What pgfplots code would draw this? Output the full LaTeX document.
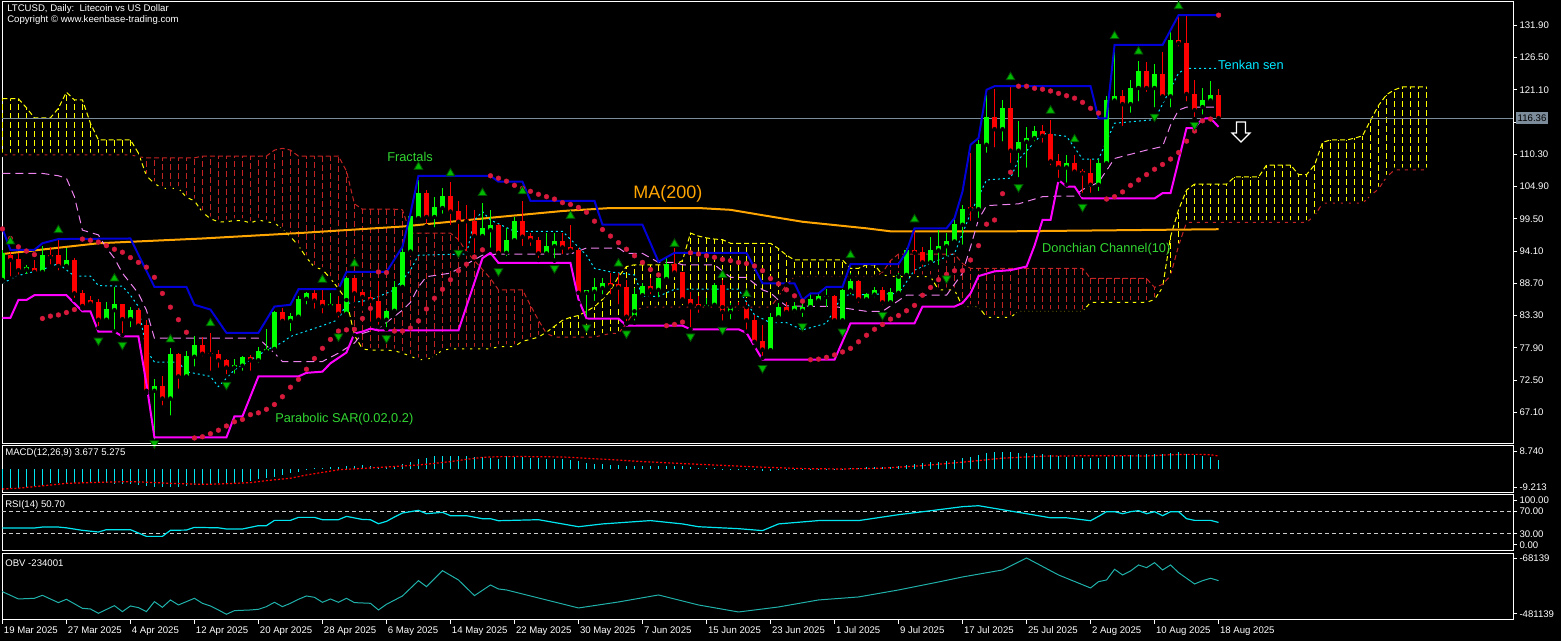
\documentclass[border=0pt]{standalone}
\usepackage{fontspec}
\setmainfont{Liberation Sans}
\usepackage{pgfplots}
\usepackage{pgfplotstable}
\pgfplotsset{compat=1.18}
\definecolor{bullc}{RGB}{0,255,0}
\definecolor{bearc}{RGB}{255,0,0}
\definecolor{dchu}{RGB}{0,0,215}
\definecolor{dchl}{RGB}{255,0,255}
\definecolor{maor}{RGB}{255,165,0}
\definecolor{sarc}{RGB}{215,25,60}
\definecolor{tenk}{RGB}{0,230,255}
\definecolor{kij}{RGB}{238,130,238}
\definecolor{cloudy}{RGB}{255,255,0}
\definecolor{cloudr}{RGB}{195,35,35}
\definecolor{fracg}{RGB}{0,185,0}
\definecolor{fracd}{RGB}{0,80,0}
\definecolor{txtg}{RGB}{50,215,50}
\definecolor{pricel}{RGB}{125,140,155}
\definecolor{macdc}{RGB}{0,230,240}
\definecolor{rsic}{RGB}{0,230,240}
\definecolor{obvc}{RGB}{32,178,170}
\newcommand{\tf}{\fontsize{9.6}{11}\selectfont}
\newcommand{\af}{\fontsize{12.8}{14}\selectfont}

\pgfplotstableread{
i l h bl bh
0 89.0 94.3 89.26 93.72
3 89.9 91.8 91.0 91.4
5 90.3 94.9 90.6 93.4
8 91.5 94.6 91.6 92.6
13 82.3 85.6 82.6 84.4
14 80.6 88.1 84.2 85.2
16 81.0 84.8 82.7 84.2
19 62.2 72.6 70.7 71.5
21 66.2 77.8 69.4 76.9
23 72.5 77.3 73.1 76.5
24 74.4 79.8 76.4 78.4
29 73.2 76.0 74.6 75.0
30 73.7 76.6 74.9 76.4
32 75.0 78.1 75.8 77.4
33 77.0 81.1 77.3 77.7
34 77.0 84.1 77.7 83.9
36 80.3 83.7 82.4 83.3
37 82.8 86.5 83.1 86.1
38 84.8 87.3 86.1 87.0
41 84.3 87.0 84.9 85.3
43 83.1 89.8 83.6 89.5
48 81.0 84.3 82.6 84.1
49 83.7 89.0 84.1 88.1
50 87.9 95.4 88.1 94.0
51 93.7 100.1 94.0 99.9
52 99.3 106.0 99.6 103.8
54 97.7 103.2 99.8 101.4
55 100.0 104.6 101.3 103.3
60 96.0 102.1 96.6 97.9
61 94.3 101.0 97.6 98.5
63 92.9 97.9 93.8 96.0
64 95.7 99.8 95.9 99.1
68 93.4 97.1 93.7 95.0
69 92.5 97.1 94.9 95.7
73 82.3 87.6 87.1 87.5
74 85.4 89.5 87.3 88.0
75 86.5 89.5 87.9 88.7
79 82.1 87.9 83.1 86.9
80 86.0 88.7 86.7 88.3
82 86.0 90.4 87.6 89.5
83 88.8 92.9 89.4 91.9
88 84.2 86.2 84.8 85.1
89 84.8 88.7 85.1 88.4
91 82.3 85.4 83.9 84.7
96 77.4 83.7 77.5 83.1
97 82.3 85.4 83.0 84.8
99 83.4 85.6 84.1 84.9
100 82.7 85.6 84.1 84.7
101 84.2 87.0 84.7 86.0
102 85.5 87.0 85.8 86.5
103 84.4 87.7 86.4 86.6
105 82.0 87.7 82.5 87.6
106 86.5 90.4 87.5 89.0
108 85.3 87.1 86.0 86.9
109 86.0 88.0 86.8 87.5
111 85.2 87.9 85.5 87.3
112 86.8 90.4 87.1 90.1
113 89.8 94.6 90.1 94.3
116 91.6 96.5 92.2 94.3
117 91.4 97.6 94.2 95.0
118 92.9 97.1 94.9 95.8
119 95.1 99.6 95.7 98.6
120 94.8 101.8 98.5 101.1
122 99.3 112.7 101.1 112.0
123 110.2 120.2 111.9 116.5
125 112.1 119.4 114.5 118.0
127 106.1 115.8 110.9 112.4
128 107.7 114.9 112.4 113.0
129 112.1 115.0 113.0 114.2
133 105.2 110.2 108.1 108.9
137 103.8 109.5 105.2 108.8
138 108.4 120.1 108.8 119.4
139 119.0 127.8 119.3 120.1
141 116.9 122.7 118.7 121.4
142 118.8 126.0 121.4 124.3
144 117.8 125.5 121.4 123.8
146 117.8 130.8 120.0 129.4
150 116.6 121.4 118.2 119.4
151 118.8 122.6 119.3 120.2
}\bull

\pgfplotstableread{
i l h bl bh
1 89.5 94.0 92.6 93.4
2 89.8 93.7 90.9 92.8
4 90.1 92.6 90.6 91.3
6 91.5 94.8 93.1 93.4
7 90.5 95.9 91.6 93.4
9 85.9 93.0 87.0 92.6
10 84.5 87.6 84.9 87.0
11 84.7 86.5 85.3 85.9
12 81.2 86.1 82.6 85.5
15 80.0 85.2 82.7 85.2
17 81.2 84.5 81.6 84.2
18 70.3 82.6 70.7 81.7
20 67.9 73.2 69.4 71.5
22 70.7 77.1 73.1 76.9
25 76.1 79.7 76.9 78.4
26 73.7 80.3 76.8 77.1
27 74.2 77.6 75.8 76.9
28 73.1 76.0 74.6 75.9
31 73.7 76.7 75.8 76.3
35 81.7 84.5 82.4 83.9
39 84.1 87.5 85.8 87.0
40 83.3 87.6 84.9 85.9
42 82.6 86.5 83.6 85.3
44 85.2 89.8 87.0 89.5
45 84.5 87.6 86.4 87.2
46 81.9 87.3 85.8 86.4
47 81.4 89.0 82.6 85.8
53 98.3 104.3 99.8 103.8
56 98.1 105.6 100.7 103.3
57 95.3 102.5 99.0 100.8
58 93.7 101.8 99.1 99.4
59 93.4 101.0 96.6 99.1
62 93.4 98.7 93.8 98.5
65 94.6 102.4 96.5 99.1
66 94.6 97.1 95.9 96.6
67 92.6 96.5 93.7 96.0
70 93.2 97.2 94.7 95.7
71 93.4 98.5 94.2 94.7
72 85.4 94.6 87.1 94.3
76 86.5 90.4 88.2 88.7
77 84.8 90.5 88.0 88.6
78 81.9 89.3 83.1 88.0
81 86.5 89.5 87.6 88.3
84 90.1 94.6 90.5 92.0
85 85.6 90.6 86.0 90.6
86 81.0 87.3 85.1 86.0
87 83.4 86.5 84.7 85.2
90 82.1 89.3 83.9 88.4
92 83.7 85.6 84.5 84.8
93 80.6 85.5 82.5 84.7
94 78.1 83.4 78.9 82.5
95 76.2 81.7 77.6 79.1
98 83.4 85.6 83.9 84.8
104 82.1 86.8 82.5 86.6
107 85.1 89.2 86.0 89.0
110 84.7 88.1 85.5 87.6
114 89.9 97.6 93.8 94.3
115 91.1 94.8 92.2 94.0
121 98.8 110.5 101.1 101.4
124 111.1 121.2 114.5 116.5
126 108.5 121.5 110.9 118.0
130 111.9 115.2 113.4 114.2
131 108.1 116.1 109.1 113.7
132 106.0 110.4 108.1 109.2
134 106.8 110.2 107.4 108.9
135 103.5 107.9 107.1 107.5
136 103.5 109.5 105.2 107.2
140 114.7 121.0 118.7 120.1
143 120.4 125.8 121.4 124.3
145 119.4 127.5 120.0 123.8
147 128.0 133.4 128.9 129.4
148 118.8 133.4 120.4 129.0
149 116.2 122.7 117.7 120.4
152 115.9 121.2 116.36 120.2
}\bear

\pgfplotstableread{
i a b
0 119.6 110.2
1 119.6 110.2
2 119.6 110.2
3 118.1 110.2
4 116.4 110.2
5 116.4 110.2
6 116.4 110.2
7 118.0 110.2
8 120.7 110.2
9 119.4 110.2
10 119.4 110.2
11 115.5 110.2
12 112.7 110.2
13 112.7 110.2
14 112.7 110.2
15 112.7 110.2
16 112.7 110.2
17 110.5 109.9
18 106.7 109.7
19 105.4 109.7
20 104.6 109.7
21 104.6 109.7
22 104.6 109.7
23 103.1 109.7
24 102.5 109.7
25 100.6 110.0
26 99.5 110.0
27 99.0 110.0
28 99.0 110.0
29 99.2 110.0
30 99.2 110.0
31 98.8 110.0
32 99.3 110.0
33 99.0 110.0
34 98.8 111.0
35 97.8 111.3
36 96.5 111.0
37 95.0 110.0
38 93.0 110.0
39 91.4 110.0
40 91.0 110.0
41 89.5 110.0
42 87.8 110.0
43 85.9 107.5
44 80.0 102.0
45 77.7 101.1
46 77.5 101.1
47 77.5 101.1
48 77.5 101.1
49 77.4 101.1
50 77.0 101.0
51 76.5 97.1
52 75.9 97.1
53 75.9 97.1
54 76.5 97.1
55 77.5 97.1
56 77.7 97.1
57 77.7 96.0
58 77.7 94.0
59 77.7 92.5
60 77.7 91.0
61 77.7 89.5
62 78.1 87.6
63 78.1 87.6
64 78.1 87.6
65 79.0 87.6
66 79.3 85.0
67 79.7 82.5
68 80.5 80.3
69 81.5 79.7
70 82.5 79.7
71 83.0 79.7
72 83.3 79.7
73 84.0 79.7
74 84.8 79.7
75 86.0 80.0
76 87.5 80.3
77 89.8 80.3
78 91.5 82.0
79 91.8 84.0
80 91.8 84.7
81 91.8 84.7
82 91.8 84.7
83 91.8 84.7
84 91.8 84.7
85 92.5 84.7
86 97.1 84.7
87 96.6 84.7
88 96.3 84.7
89 96.1 84.7
90 96.0 84.7
91 95.4 84.7
92 95.4 84.7
93 95.4 84.7
94 95.4 84.7
95 95.4 84.7
96 95.4 84.7
97 94.5 86.5
98 93.4 88.5
99 92.6 89.8
100 92.6 89.8
101 92.6 89.8
102 92.6 89.8
103 92.6 89.8
104 92.6 89.8
105 92.6 89.8
106 91.2 89.8
107 91.2 89.8
108 91.8 89.8
109 91.8 89.8
110 90.1 90.5
111 89.9 92.5
112 89.8 93.6
113 89.8 93.6
114 89.8 93.6
115 89.8 93.6
116 89.8 93.6
117 87.6 93.6
118 87.6 93.6
119 87.6 93.6
120 84.8 92.0
121 84.8 91.2
122 84.8 91.2
123 83.0 91.2
124 83.0 91.2
125 83.0 91.2
126 83.0 91.2
127 84.0 91.2
128 84.0 91.2
129 84.0 91.2
130 84.0 91.2
131 84.0 91.2
132 84.0 91.2
133 84.0 91.2
134 84.0 91.2
135 84.0 91.2
136 85.5 89.5
137 85.5 89.5
138 85.5 89.5
139 85.5 89.5
140 85.5 89.5
141 85.5 89.5
142 85.5 89.5
143 85.5 89.5
144 86.0 88.0
145 88.0 88.5
146 96.5 90.0
147 101.0 95.0
148 104.3 98.9
149 105.3 98.9
150 105.3 98.9
151 105.3 98.9
152 105.3 98.9
153 105.3 98.9
154 106.5 98.9
155 106.5 98.9
156 106.5 98.9
157 106.5 98.9
158 108.5 98.9
159 108.5 98.9
160 108.5 98.9
161 108.5 98.9
162 106.9 98.9
163 106.9 98.9
164 108.5 100.0
165 112.3 102.1
166 112.7 102.1
167 112.7 102.1
168 112.7 102.1
169 113.0 102.1
170 113.4 102.1
171 116.0 103.4
172 118.5 104.5
173 120.3 106.5
174 121.1 107.7
175 121.6 107.7
176 121.6 107.7
177 121.6 107.7
178 121.6 107.7
}\cloud

\pgfplotstableread{
i v
0 97.9
1 94.3
4 94.3
5 95.4
7 96.1
16 96.2
19 88.1
23 88.1
24 85.1
26 84.3
28 80.4
32 80.4
34 84.8
36 85.1
37 87.7
42 87.7
43 90.6
48 90.6
50 94.8
51 100.4
52 106.7
61 106.7
62 105.7
65 105.7
66 102.5
74 102.5
75 98.5
80 98.5
82 92.3
84 93.8
93 93.8
95 88.7
99 88.7
100 85.9
101 87.0
102 87.0
103 88.1
105 88.1
106 91.9
112 91.9
113 94.0
114 97.9
118 97.9
119 99.6
120 104.1
121 111.9
122 113.0
123 121.1
124 121.7
136 121.7
137 116.3
138 116.3
139 128.6
145 128.6
147 133.6
152 133.6
}\dup

\pgfplotstableread{
i v
0 82.9
1 82.9
2 85.9
3 85.9
4 86.7
8 86.7
10 84.0
11 84.0
12 80.6
14 80.6
15 79.8
17 79.8
18 71.9
19 62.9
28 62.9
29 66.4
30 66.4
32 73.1
37 73.1
38 73.7
40 73.9
41 75.3
43 77.1
44 80.3
45 80.6
46 81.1
47 80.8
57 80.8
60 92.9
61 93.8
62 92.1
71 92.1
72 86.0
73 82.8
77 82.8
78 81.6
85 81.6
86 81.0
92 81.0
93 80.4
95 75.9
104 75.9
106 82.0
114 82.0
115 84.8
119 84.8
120 85.4
121 87.0
122 89.9
124 90.7
126 90.9
128 91.5
129 95.0
130 99.3
131 99.3
132 106.0
133 104.9
134 104.9
135 102.9
144 102.9
145 103.8
146 103.8
148 114.7
149 114.7
150 116.3
151 116.3
152 114.9
}\dlo

\pgfplotstableread{
i v
0 93.6
12 95.4
25 96.2
37 97.1
50 98.2
62 99.8
70 100.8
76 101.3
87 101.3
91 101.0
95 100.1
100 99.0
108 97.9
111 97.4
126 97.4
152 97.75
}\ma

\pgfplotstableread{
i v
0 88.7
2 90.0
5 91.0
7 92.0
9 89.9
11 89.9
12 88.3
15 88.2
16 86.7
17 84.8
18 77.5
19 75.5
22 75.5
23 73.9
26 73.1
27 71.4
29 74.2
33 77.5
35 78.8
36 79.8
40 81.6
42 82.6
43 85.3
46 85.9
49 87.6
51 90.9
52 93.4
58 93.6
59 99.3
60 100.7
61 99.3
64 97.4
70 97.4
73 93.4
74 91.2
76 90.6
79 90.1
80 86.5
82 86.5
84 87.7
92 87.7
94 83.4
96 82.1
98 82.1
100 80.9
103 82.0
105 86.7
112 87.0
114 90.9
119 93.7
121 100.4
123 106.0
126 106.3
127 109.4
130 113.8
133 113.3
135 109.5
137 109.5
139 115.5
144 116.1
147 123.9
148 124.7
152 124.7
}\tenkan

\pgfplotstableread{
i v
0 107.1
5 107.1
7 106.7
8 106.3
9 103.2
10 97.6
12 96.8
13 94.6
14 92.9
15 90.4
16 88.7
17 87.0
18 84.2
19 79.5
32 79.5
34 77.0
35 75.6
40 75.6
42 77.0
44 78.7
45 80.3
47 81.1
50 84.2
51 85.5
52 88.1
53 89.8
56 90.4
58 91.9
60 93.4
62 93.6
71 93.6
73 94.6
77 94.6
78 93.7
80 93.7
82 92.2
84 92.2
85 91.8
89 91.8
91 89.7
93 89.7
95 87.6
96 87.1
97 85.9
98 84.9
104 84.8
108 84.0
110 84.0
113 86.7
118 86.7
120 90.4
121 94.8
122 99.4
123 101.7
127 102.0
130 103.2
132 103.3
134 103.3
135 104.4
137 105.6
139 109.6
143 111.0
145 111.6
146 115.2
147 117.7
148 118.2
152 118.2
}\kijun

\pgfplotstableread{
i v
0 97.8
1 96.2
2 94.8
3 94.1
4 93.5
5 82.8
6 83.2
7 83.4
8 83.8
9 84.3
10 96.1
11 95.9
12 95.6
13 95.0
14 94.4
15 93.9
16 93.0
17 92.2
18 91.4
19 89.7
20 87.0
21 84.7
22 82.6
23 80.5
24 62.8
25 63.0
26 63.5
27 64.1
28 64.8
29 65.5
30 65.9
31 66.7
32 67.0
33 67.6
34 68.4
35 69.7
36 71.3
37 72.6
38 74.3
39 76.1
40 77.8
41 79.3
42 80.7
43 80.9
44 81.0
45 82.8
46 84.5
47 90.6
48 90.5
49 80.7
50 80.7
51 81.2
52 82.4
53 84.4
54 86.2
55 87.7
56 89.3
57 90.8
58 91.9
59 93.1
60 94.3
61 106.7
62 106.3
63 105.8
64 105.1
65 104.6
66 104.1
67 103.6
68 103.2
69 102.8
70 102.2
71 101.9
72 101.4
73 100.6
74 99.1
75 97.7
76 96.6
77 95.5
78 94.4
79 93.3
80 92.2
81 91.0
82 90.1
83 81.6
84 81.8
85 82.2
86 93.8
87 93.6
88 93.3
89 93.05
90 92.7
91 92.5
92 92.2
93 92.0
94 91.6
95 90.8
96 89.5
97 88.6
98 87.6
99 86.6
100 85.7
101 75.9
102 76.0
103 76.3
104 76.7
105 77.2
106 77.8
107 78.9
108 80.0
109 81.0
110 81.8
111 82.7
112 83.3
113 84.1
114 85.0
115 86.7
116 88.0
117 89.3
118 90.2
119 90.8
120 90.8
121 92.6
122 95.0
123 98.6
124 99.3
125 103.7
126 107.3
127 121.7
128 121.7
129 121.35
130 121.2
131 120.9
132 120.5
133 120.1
134 119.7
135 119.0
136 118.0
137 117.2
138 102.8
139 103.2
140 104.0
141 105.1
142 106.0
143 106.9
144 107.8
145 108.6
146 109.5
147 110.6
148 112.5
149 114.2
150 115.9
151 116.2
152 133.6
}\sar

\pgfplotstableread{
i v
1 95.7
7 97.6
14 89.5
21 79.3
26 82.0
40 89.3
44 92.0
52 108.2
56 107.1
60 103.8
65 104.1
71 100.0
77 92.0
84 95.3
90 90.1
93 86.9
106 93.4
114 99.4
126 123.2
131 117.6
134 112.8
139 130.1
142 127.5
147 135.1
}\fup

\pgfplotstableread{
i v
12 79.1
15 78.4
19 61.9
28 71.7
42 79.8
48 79.5
57 93.8
62 90.7
69 91.2
73 81.3
78 80.3
86 79.8
90 80.9
95 74.5
100 81.5
105 80.6
110 83.4
118 89.5
127 104.8
135 101.5
144 116.6
149 115.2
}\fdn

\pgfplotstableread{
i v
0 -9.5
1 -9.5
2 -9.5
3 -8.7
4 -8.4
5 -7.9
6 -7.1
7 -7.1
8 -6.7
9 -6.7
10 -7.0
11 -7.0
12 -7.0
13 -7.0
14 -7.4
15 -7.4
16 -7.4
17 -7.9
18 -8.4
19 -8.7
20 -8.9
21 -8.7
22 -8.7
23 -8.4
24 -8.0
25 -7.9
26 -7.5
27 -7.0
28 -7.0
29 -6.7
30 -6.2
31 -5.7
32 -5.0
33 -4.5
34 -3.7
35 -2.9
36 -2.1
37 -1.2
38 -0.4
39 0.4
40 0.4
41 0.9
42 1.3
43 1.6
44 1.6
45 2.1
46 1.8
47 1.3
48 1.3
49 1.6
50 2.6
51 3.4
52 4.9
53 5.4
54 6.6
55 6.6
56 6.6
57 6.6
58 6.6
59 6.3
60 5.9
61 5.4
62 4.9
63 6.5
64 6.3
65 6.0
66 5.8
67 5.5
68 5.3
69 5.2
70 5.0
71 4.8
72 4.0
73 3.2
74 2.8
75 2.5
76 2.2
77 2.0
78 1.6
79 1.5
80 1.4
81 1.5
82 1.6
83 1.8
84 1.8
85 1.4
86 1.0
87 0.7
88 0.5
89 0.5
90 0.3
91 0.2
92 0.1
93 -0.2
94 -0.6
95 -1.0
96 -0.8
97 -0.6
98 -0.5
99 -0.4
100 -0.4
101 -0.2
102 0.1
103 0.2
104 0.1
105 0.3
106 0.7
107 0.8
108 0.9
109 1.0
110 1.0
111 1.2
112 1.6
113 2.3
114 2.8
115 3.0
116 3.4
117 3.8
118 4.2
119 4.8
120 5.4
121 6.0
122 7.2
123 8.2
124 8.6
125 8.8
126 8.5
127 8.2
128 7.9
129 7.7
130 7.5
131 7.0
132 6.5
133 6.2
134 6.0
135 5.8
136 5.6
137 5.8
138 6.25
139 6.75
140 6.75
141 7.1
142 7.6
143 7.4
144 7.6
145 7.6
146 7.9
147 8.4
148 7.6
149 7.1
150 6.6
151 5.9
152 4.6
}\macd

\pgfplotstableread{
i v
0 -9.9
2 -9.5
4 -8.7
6 -7.9
8 -7.05
12 -6.55
16 -6.2
18 -6.5
21 -7.05
25 -7.55
27 -7.4
31 -6.7
33 -5.7
36 -4.5
38 -2.9
40 -1.6
42 -0.3
45 0.4
47 0.9
50 1.6
52 2.1
54 2.9
56 3.8
58 4.9
60 5.9
62 6.25
65 6.3
70 6.1
75 5.0
80 3.8
85 2.8
90 1.9
95 1.0
100 0.3
105 0.1
110 0.5
115 1.8
120 3.5
125 5.5
130 6.5
135 6.7
138 6.75
143 6.6
146 7.2
148 7.4
150 7.4
151 7.2
152 6.6
}\signal

\pgfplotstableread{
i v
0 40.7
4 40.7
5 42.4
7 42.4
8 41.0
10 36.5
12 33.5
13 37.7
16 37.7
17 31.7
18 25.7
20 25.7
21 36.5
23 37.0
24 41.8
27 41.0
28 38.9
30 38.9
32 44.9
33 44.9
34 54.4
36 54.4
37 59.8
39 59.8
40 55.6
42 55.6
43 61.6
45 56.0
46 55.6
47 48.4
48 52.6
49 60.4
50 67.6
52 72.4
53 66.4
55 68.8
56 62.8
58 62.8
60 57.4
61 57.4
62 53.8
67 55.6
72 43.0
75 48.0
81 54.0
85 48.0
87 43.0
92 39.5
95 36.0
97 48.0
102 54.0
107 54.0
112 64.6
116 71.7
120 79.0
122 80.7
125 73.5
128 66.4
131 59.0
133 59.0
136 53.8
137 61.6
138 70.0
139 70.0
140 66.4
141 70.0
142 71.8
143 66.4
144 70.0
145 62.8
146 70.0
147 70.0
148 57.4
149 54.4
150 54.4
151 54.4
152 50.7
}\rsi

\pgfplotstableread{
i v
0 -315600
2 -369900
4 -365000
5 -342800
7 -397000
8 -372400
10 -439200
11 -444100
12 -476200
14 -419400
15 -463900
16 -421900
17 -434200
18 -463900
19 -389700
20 -431700
21 -377400
22 -414400
23 -389700
24 -365000
25 -402100
26 -421900
27 -451500
28 -483600
29 -456400
31 -451500
32 -446600
33 -426800
34 -394600
35 -426800
36 -402100
37 -372400
38 -347700
39 -357600
40 -394600
41 -370000
42 -394600
43 -365000
44 -397000
46 -402100
47 -451500
48 -409500
50 -347700
52 -234000
53 -278500
55 -159900
57 -229100
59 -345200
61 -266100
62 -295800
63 -303200
67 -362500
72 -436700
77 -392200
82 -340300
87 -414500
92 -466400
97 -429300
102 -377300
107 -355100
112 -303200
117 -243900
120 -206800
125 -154900
128 -65900
132 -192000
136 -288400
137 -241600
138 -229000
139 -149700
140 -192000
141 -162300
142 -117800
143 -137800
144 -100800
145 -154900
146 -117800
147 -174900
148 -216400
149 -258700
150 -234200
151 -216400
152 -234001
}\obv

\pgfplotsset{
  panel/.style={scale only axis, anchor=south west, width=1511pt,
    xmin=-0.0375, xmax=188.8,
    axis line style={white, line width=1pt},
    tick style={white, line width=1pt},
    tick align=outside, major tick length=4pt,
    ytick pos=right, yticklabel pos=right,
    xtick pos=bottom,
    yticklabel style={font=\tf, text=white, anchor=west, xshift=-1pt},
    xticklabel style={font=\tf, text=white, anchor=north west, xshift=-2pt, yshift=1pt},
    scaled y ticks=false},
}

\begin{document}
\begin{tikzpicture}[x=1pt,y=1pt]
\fill[black] (0,0) rectangle (1561,641);

% ---------- main price panel ----------
\begin{axis}[panel, at={(2pt,197pt)}, height=442pt,
  ymin=61.79, ymax=135.80, xtick=\empty,
  ytick={67.1,72.5,77.9,83.3,88.7,94.1,99.5,104.9,110.3,115.7,121.1,126.5,131.9},
  yticklabels={67.10,72.50,77.90,83.30,88.70,94.10,99.50,104.90,110.30,{},121.10,126.50,131.90}]
% cloud hatching
\addplot[only marks, mark=none, restrict x to domain=0:17,
  error bars/.cd, y dir=plus, y explicit, error mark=none,
  error bar style={line width=1pt, color=cloudy, dash pattern=on 6pt off 3pt}]
  table[x=i, y=b, y error expr=\thisrow{a}-\thisrow{b}] {\cloud};
\addplot[only marks, mark=none, restrict x to domain=68:109,
  error bars/.cd, y dir=plus, y explicit, error mark=none,
  error bar style={line width=1pt, color=cloudy, dash pattern=on 6pt off 3pt}]
  table[x=i, y=b, y error expr=\thisrow{a}-\thisrow{b}] {\cloud};
\addplot[only marks, mark=none, restrict x to domain=146:178,
  error bars/.cd, y dir=plus, y explicit, error mark=none,
  error bar style={line width=1pt, color=cloudy, dash pattern=on 6pt off 3pt}]
  table[x=i, y=b, y error expr=\thisrow{a}-\thisrow{b}] {\cloud};
\addplot[only marks, mark=none, restrict x to domain=18:67,
  error bars/.cd, y dir=plus, y explicit, error mark=none,
  error bar style={line width=1pt, color=cloudr, dash pattern=on 6pt off 3pt}]
  table[x=i, y=a, y error expr=\thisrow{b}-\thisrow{a}] {\cloud};
\addplot[only marks, mark=none, restrict x to domain=110:145,
  error bars/.cd, y dir=plus, y explicit, error mark=none,
  error bar style={line width=1pt, color=cloudr, dash pattern=on 6pt off 3pt}]
  table[x=i, y=a, y error expr=\thisrow{b}-\thisrow{a}] {\cloud};
\addplot[cloudy, line width=1pt, dash pattern=on 5pt off 3pt] table[x=i, y=a] {\cloud};
\addplot[cloudr, line width=1pt, dash pattern=on 5pt off 3pt] table[x=i, y=b] {\cloud};
% current price line
\addplot[pricel, line width=1pt] coordinates {(-0.0375,116.36) (188.8,116.36)};
% MA, Kijun, Tenkan
\addplot[maor, line width=2pt] table[x=i, y=v] {\ma};
\addplot[kij, line width=1pt, dash pattern=on 8pt off 5pt] table[x=i, y=v] {\kijun};
\addplot[tenk, line width=1pt, dash pattern=on 2pt off 3pt] table[x=i, y=v] {\tenkan};
% candles
\addplot[only marks, mark=none, error bars/.cd, y dir=plus, y explicit, error mark=none,
  error bar style={line width=1pt, color=bullc}]
  table[x=i, y=l, y error expr=\thisrow{h}-\thisrow{l}] {\bull};
\addplot[only marks, mark=none, error bars/.cd, y dir=plus, y explicit, error mark=none,
  error bar style={line width=5pt, color=bullc}]
  table[x=i, y=bl, y error expr=\thisrow{bh}-\thisrow{bl}] {\bull};
\addplot[only marks, mark=none, error bars/.cd, y dir=plus, y explicit, error mark=none,
  error bar style={line width=1pt, color=bearc}]
  table[x=i, y=l, y error expr=\thisrow{h}-\thisrow{l}] {\bear};
\addplot[only marks, mark=none, error bars/.cd, y dir=plus, y explicit, error mark=none,
  error bar style={line width=5pt, color=bearc}]
  table[x=i, y=bl, y error expr=\thisrow{bh}-\thisrow{bl}] {\bear};
% Donchian
\addplot[dchu, line width=2pt] table[x=i, y=v] {\dup};
\addplot[dchl, line width=2pt] table[x=i, y=v] {\dlo};
% SAR
\addplot[only marks, mark=*, mark size=2.4pt, mark options={fill=sarc, draw=sarc}] table[x=i, y=v] {\sar};
% fractals
\addplot[only marks, mark=triangle*, mark size=5pt, mark options={fill=fracg, draw=fracd, line width=0.8pt}] table[x=i, y=v] {\fup};
\addplot[only marks, mark=triangle*, mark size=5pt, mark options={fill=fracg, draw=fracd, line width=0.8pt, rotate=180}] table[x=i, y=v] {\fdn};
\end{axis}

% ---------- MACD ----------
\begin{axis}[panel, at={(2pt,148.3pt)}, height=46.7pt,
  ymin=-11.71, ymax=11.58, xtick=\empty,
  ytick={8.74,-9.213}, yticklabels={8.740,-9.213}]
\addplot[ycomb, macdc, line width=1.2pt, mark=none] table[x=i, y=v] {\macd};
\addplot[red, line width=1.2pt, dash pattern=on 2pt off 2pt] table[x=i, y=v] {\signal};
\end{axis}

% ---------- RSI ----------
\begin{axis}[panel, at={(2pt,90.3pt)}, height=55.7pt,
  ymin=0, ymax=100, xtick=\empty,
  ytick={90.2,70,30,10.2}, yticklabels={100.00,70.00,30.00,0.00}]
\addplot[white!80!black, line width=1pt, dash pattern=on 4pt off 3pt] coordinates {(-0.0375,70) (188.8,70)};
\addplot[white!80!black, line width=1pt, dash pattern=on 4pt off 3pt] coordinates {(-0.0375,30) (188.8,30)};
\addplot[rsic, line width=1.2pt] table[x=i, y=v] {\rsi};
\end{axis}

% ---------- OBV ----------
\begin{axis}[panel, at={(2pt,21pt)}, height=66.7pt,
  ymin=-525629, ymax=-31064,
  ytick={-68139,-481139}, yticklabels={-68139,-481139},
  xtick={0,8,16,24,32,40,48,56,64,72,80,88,96,104,112,120,128,136,144,152},
  xticklabels={19 Mar 2025,27 Mar 2025,4 Apr 2025,12 Apr 2025,20 Apr 2025,28 Apr 2025,6 May 2025,14 May 2025,22 May 2025,30 May 2025,7 Jun 2025,15 Jun 2025,23 Jun 2025,1 Jul 2025,9 Jul 2025,17 Jul 2025,25 Jul 2025,2 Aug 2025,10 Aug 2025,18 Aug 2025}]
\addplot[obvc, line width=1pt] table[x=i, y=v] {\obv};
\end{axis}

% ---------- texts ----------
\node[anchor=west, text=white, font=\tf, inner sep=0pt] at (7,632) {LTCUSD, Daily:\ \ Litecoin vs US Dollar};
\node[anchor=west, text=white, font=\tf, inner sep=0pt] at (7,621) {Copyright © www.keenbase-trading.com};
\node[anchor=west, text=white, font=\tf, inner sep=0pt] at (5,188) {MACD(12,26,9) 3.677 5.275};
\node[anchor=west, text=white, font=\tf, inner sep=0pt] at (5,136) {RSI(14) 50.70};
\node[anchor=west, text=white, font=\tf, inner sep=0pt] at (5,78) {OBV -234001};
\node[anchor=west, text=txtg, font=\af, inner sep=0pt] at (387,484) {Fractals};
\node[anchor=west, text=maor, font=\fontsize{18}{20}\selectfont, inner sep=0pt] at (633,447) {MA(200)};
\node[anchor=west, text=tenk, font=\af, inner sep=0pt] at (1218,576) {Tenkan sen};
\node[anchor=west, text=txtg, font=\af, inner sep=0pt] at (1042,392) {Donchian Channel(10)};
\node[anchor=west, text=txtg, font=\af, inner sep=0pt] at (275,222) {Parabolic SAR(0.02,0.2)};
\node[anchor=west, fill=pricel, text=black, font=\tf, inner sep=1.5pt, minimum height=12pt] at (1516,523) {116.36};
\draw[white, line width=1.2pt] (1236.5,519) -- (1245.5,519) -- (1245.5,508) -- (1250,508) -- (1241,499) -- (1232,508) -- (1236.5,508) -- cycle;
\end{tikzpicture}
\end{document}
